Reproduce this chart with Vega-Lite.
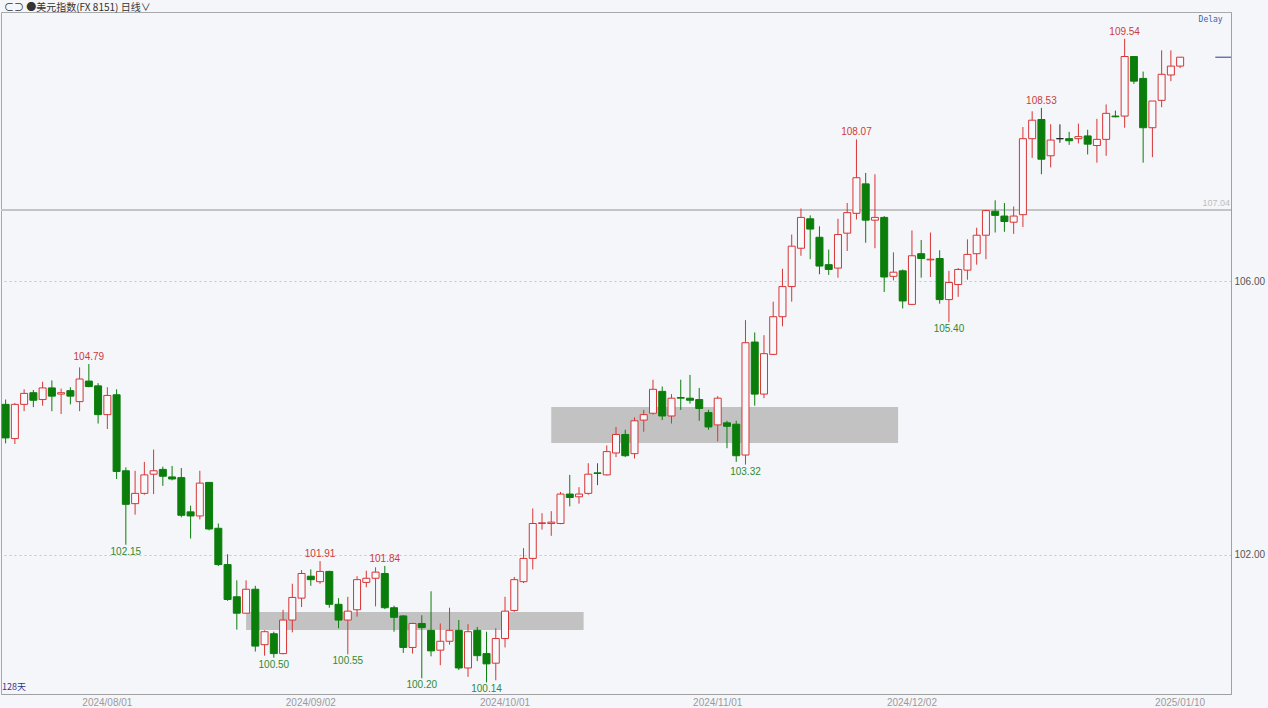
{
  "$schema": "https://vega.github.io/schema/vega-lite/v6.json",
  "width": 1230,
  "height": 682,
  "autosize": {"type": "none"},
  "padding": {"left": 1, "top": 12, "right": 37, "bottom": 14},
  "background": "#f5f6fa",
  "title": {"text": "⊂⊃ ●美元指数(FX 8151)   日线∨", "anchor": "start", "frame": "group", "offset": -1, "dx": 3, "fontSize": 10, "fontWeight": "normal", "color": "#333333", "font": "Noto Sans CJK SC"},
  "config": {"view": {"stroke": "#a8a8a8", "fill": "#f5f6fa"}},
  "datasets": {
    "candles": [
      {"date":"2024-07-17","open":104.20,"high":104.27,"low":103.63,"close":103.71},
      {"date":"2024-07-18","open":103.70,"high":104.22,"low":103.62,"close":104.20},
      {"date":"2024-07-19","open":104.20,"high":104.42,"low":104.10,"close":104.36},
      {"date":"2024-07-22","open":104.37,"high":104.41,"low":104.16,"close":104.26},
      {"date":"2024-07-23","open":104.27,"high":104.53,"low":104.18,"close":104.44},
      {"date":"2024-07-24","open":104.44,"high":104.55,"low":104.10,"close":104.32},
      {"date":"2024-07-25","open":104.35,"high":104.43,"low":104.06,"close":104.37},
      {"date":"2024-07-26","open":104.40,"high":104.45,"low":104.20,"close":104.32},
      {"date":"2024-07-29","open":104.24,"high":104.74,"low":104.10,"close":104.57},
      {"date":"2024-07-30","open":104.54,"high":104.79,"low":104.45,"close":104.46},
      {"date":"2024-07-31","open":104.47,"high":104.51,"low":103.92,"close":104.05},
      {"date":"2024-08-01","open":104.05,"high":104.45,"low":103.84,"close":104.33},
      {"date":"2024-08-02","open":104.34,"high":104.42,"low":103.11,"close":103.22},
      {"date":"2024-08-05","open":103.23,"high":103.28,"low":102.15,"close":102.74},
      {"date":"2024-08-06","open":102.75,"high":103.23,"low":102.59,"close":102.90},
      {"date":"2024-08-07","open":102.90,"high":103.36,"low":102.88,"close":103.17},
      {"date":"2024-08-08","open":103.18,"high":103.54,"low":102.89,"close":103.23},
      {"date":"2024-08-09","open":103.25,"high":103.29,"low":103.01,"close":103.15},
      {"date":"2024-08-12","open":103.14,"high":103.30,"low":103.09,"close":103.11},
      {"date":"2024-08-13","open":103.13,"high":103.27,"low":102.55,"close":102.58},
      {"date":"2024-08-14","open":102.63,"high":102.72,"low":102.24,"close":102.57},
      {"date":"2024-08-15","open":102.57,"high":103.23,"low":102.52,"close":103.05},
      {"date":"2024-08-16","open":103.06,"high":103.06,"low":102.36,"close":102.38},
      {"date":"2024-08-19","open":102.39,"high":102.46,"low":101.84,"close":101.86},
      {"date":"2024-08-20","open":101.86,"high":102.01,"low":101.33,"close":101.35},
      {"date":"2024-08-21","open":101.39,"high":101.63,"low":100.91,"close":101.15},
      {"date":"2024-08-22","open":101.15,"high":101.63,"low":101.15,"close":101.50},
      {"date":"2024-08-23","open":101.50,"high":101.55,"low":100.59,"close":100.67},
      {"date":"2024-08-26","open":100.69,"high":100.90,"low":100.53,"close":100.88},
      {"date":"2024-08-27","open":100.85,"high":100.88,"low":100.50,"close":100.56},
      {"date":"2024-08-28","open":100.56,"high":101.20,"low":100.55,"close":101.05},
      {"date":"2024-08-29","open":101.05,"high":101.58,"low":100.87,"close":101.38},
      {"date":"2024-08-30","open":101.37,"high":101.78,"low":101.24,"close":101.73},
      {"date":"2024-09-02","open":101.69,"high":101.79,"low":101.55,"close":101.64},
      {"date":"2024-09-03","open":101.61,"high":101.91,"low":101.58,"close":101.76},
      {"date":"2024-09-04","open":101.76,"high":101.77,"low":101.23,"close":101.28},
      {"date":"2024-09-05","open":101.28,"high":101.37,"low":100.93,"close":101.05},
      {"date":"2024-09-06","open":101.05,"high":101.39,"low":100.55,"close":101.18},
      {"date":"2024-09-09","open":101.20,"high":101.69,"low":101.10,"close":101.64},
      {"date":"2024-09-10","open":101.60,"high":101.77,"low":101.53,"close":101.66},
      {"date":"2024-09-11","open":101.66,"high":101.82,"low":101.25,"close":101.75},
      {"date":"2024-09-12","open":101.73,"high":101.84,"low":101.21,"close":101.23},
      {"date":"2024-09-13","open":101.23,"high":101.26,"low":100.88,"close":101.09},
      {"date":"2024-09-16","open":101.11,"high":101.12,"low":100.57,"close":100.65},
      {"date":"2024-09-17","open":100.65,"high":101.01,"low":100.56,"close":101.00},
      {"date":"2024-09-18","open":101.00,"high":101.12,"low":100.20,"close":100.94},
      {"date":"2024-09-19","open":100.90,"high":101.47,"low":100.52,"close":100.60},
      {"date":"2024-09-20","open":100.61,"high":101.00,"low":100.39,"close":100.74},
      {"date":"2024-09-23","open":100.74,"high":101.23,"low":100.69,"close":100.90},
      {"date":"2024-09-24","open":100.90,"high":101.05,"low":100.32,"close":100.35},
      {"date":"2024-09-25","open":100.35,"high":100.99,"low":100.22,"close":100.88},
      {"date":"2024-09-26","open":100.90,"high":100.95,"low":100.45,"close":100.53},
      {"date":"2024-09-27","open":100.56,"high":100.88,"low":100.14,"close":100.41},
      {"date":"2024-09-30","open":100.42,"high":100.93,"low":100.17,"close":100.78},
      {"date":"2024-10-01","open":100.78,"high":101.39,"low":100.65,"close":101.18},
      {"date":"2024-10-02","open":101.19,"high":101.68,"low":101.17,"close":101.64},
      {"date":"2024-10-03","open":101.61,"high":102.10,"low":101.59,"close":101.95},
      {"date":"2024-10-04","open":101.95,"high":102.68,"low":101.79,"close":102.46},
      {"date":"2024-10-07","open":102.46,"high":102.61,"low":102.37,"close":102.47},
      {"date":"2024-10-08","open":102.46,"high":102.64,"low":102.28,"close":102.48},
      {"date":"2024-10-09","open":102.46,"high":102.92,"low":102.45,"close":102.89},
      {"date":"2024-10-10","open":102.89,"high":103.17,"low":102.71,"close":102.84},
      {"date":"2024-10-11","open":102.85,"high":102.99,"low":102.75,"close":102.89},
      {"date":"2024-10-14","open":102.90,"high":103.34,"low":102.88,"close":103.18},
      {"date":"2024-10-15","open":103.20,"high":103.34,"low":103.02,"close":103.19},
      {"date":"2024-10-16","open":103.17,"high":103.60,"low":103.16,"close":103.51},
      {"date":"2024-10-17","open":103.49,"high":103.87,"low":103.43,"close":103.76},
      {"date":"2024-10-18","open":103.76,"high":103.83,"low":103.43,"close":103.45},
      {"date":"2024-10-21","open":103.48,"high":104.01,"low":103.41,"close":103.96},
      {"date":"2024-10-22","open":103.97,"high":104.12,"low":103.80,"close":104.05},
      {"date":"2024-10-23","open":104.07,"high":104.56,"low":104.05,"close":104.42},
      {"date":"2024-10-24","open":104.39,"high":104.46,"low":103.97,"close":104.03},
      {"date":"2024-10-25","open":104.03,"high":104.35,"low":103.92,"close":104.29},
      {"date":"2024-10-28","open":104.30,"high":104.56,"low":104.12,"close":104.29},
      {"date":"2024-10-29","open":104.29,"high":104.63,"low":104.21,"close":104.26},
      {"date":"2024-10-30","open":104.27,"high":104.44,"low":103.96,"close":104.14},
      {"date":"2024-10-31","open":104.08,"high":104.12,"low":103.83,"close":103.87},
      {"date":"2024-11-01","open":103.90,"high":104.32,"low":103.66,"close":104.29},
      {"date":"2024-11-04","open":103.93,"high":103.96,"low":103.56,"close":103.88},
      {"date":"2024-11-05","open":103.91,"high":103.96,"low":103.36,"close":103.45},
      {"date":"2024-11-06","open":103.46,"high":105.43,"low":103.32,"close":105.10},
      {"date":"2024-11-07","open":105.11,"high":105.25,"low":104.18,"close":104.35},
      {"date":"2024-11-08","open":104.35,"high":105.21,"low":104.29,"close":104.94},
      {"date":"2024-11-11","open":104.93,"high":105.70,"low":104.92,"close":105.48},
      {"date":"2024-11-12","open":105.48,"high":106.18,"low":105.34,"close":105.92},
      {"date":"2024-11-13","open":105.92,"high":106.68,"low":105.70,"close":106.51},
      {"date":"2024-11-14","open":106.48,"high":107.06,"low":106.37,"close":106.93},
      {"date":"2024-11-15","open":106.91,"high":106.96,"low":106.32,"close":106.76},
      {"date":"2024-11-18","open":106.64,"high":106.80,"low":106.10,"close":106.22},
      {"date":"2024-11-19","open":106.24,"high":106.46,"low":106.09,"close":106.17},
      {"date":"2024-11-20","open":106.19,"high":106.91,"low":106.05,"close":106.68},
      {"date":"2024-11-21","open":106.70,"high":107.14,"low":106.44,"close":107.00},
      {"date":"2024-11-22","open":106.99,"high":108.07,"low":106.90,"close":107.51},
      {"date":"2024-11-25","open":107.42,"high":107.58,"low":106.56,"close":106.89},
      {"date":"2024-11-26","open":106.89,"high":107.56,"low":106.48,"close":106.93},
      {"date":"2024-11-27","open":106.93,"high":106.95,"low":105.84,"close":106.06},
      {"date":"2024-11-28","open":106.07,"high":106.42,"low":106.01,"close":106.13},
      {"date":"2024-11-29","open":106.15,"high":106.17,"low":105.60,"close":105.71},
      {"date":"2024-12-02","open":105.66,"high":106.74,"low":105.65,"close":106.37},
      {"date":"2024-12-03","open":106.40,"high":106.60,"low":106.05,"close":106.33},
      {"date":"2024-12-04","open":106.31,"high":106.71,"low":106.06,"close":106.32},
      {"date":"2024-12-05","open":106.33,"high":106.45,"low":105.67,"close":105.73},
      {"date":"2024-12-06","open":105.73,"high":106.15,"low":105.40,"close":105.98},
      {"date":"2024-12-09","open":105.95,"high":106.19,"low":105.77,"close":106.17},
      {"date":"2024-12-10","open":106.16,"high":106.61,"low":106.02,"close":106.39},
      {"date":"2024-12-11","open":106.40,"high":106.78,"low":106.24,"close":106.67},
      {"date":"2024-12-12","open":106.67,"high":107.04,"low":106.32,"close":107.03},
      {"date":"2024-12-13","open":107.02,"high":107.18,"low":106.71,"close":106.96},
      {"date":"2024-12-16","open":106.95,"high":107.14,"low":106.72,"close":106.87},
      {"date":"2024-12-17","open":106.86,"high":107.09,"low":106.69,"close":106.95},
      {"date":"2024-12-18","open":106.97,"high":108.25,"low":106.79,"close":108.08},
      {"date":"2024-12-19","open":108.08,"high":108.48,"low":107.80,"close":108.35},
      {"date":"2024-12-20","open":108.36,"high":108.53,"low":107.56,"close":107.78},
      {"date":"2024-12-23","open":107.83,"high":108.29,"low":107.66,"close":108.06},
      {"date":"2024-12-24","open":108.08,"high":108.29,"low":108.02,"close":108.08},
      {"date":"2024-12-25","open":108.08,"high":108.18,"low":107.99,"close":108.05},
      {"date":"2024-12-26","open":108.08,"high":108.30,"low":108.01,"close":108.11},
      {"date":"2024-12-27","open":108.12,"high":108.21,"low":107.85,"close":108.00},
      {"date":"2024-12-30","open":107.98,"high":108.37,"low":107.73,"close":108.07},
      {"date":"2024-12-31","open":108.07,"high":108.58,"low":107.83,"close":108.45},
      {"date":"2025-01-01","open":108.41,"high":108.49,"low":108.39,"close":108.40},
      {"date":"2025-01-02","open":108.41,"high":109.54,"low":108.24,"close":109.28},
      {"date":"2025-01-03","open":109.28,"high":109.28,"low":108.88,"close":108.92},
      {"date":"2025-01-06","open":108.96,"high":109.06,"low":107.73,"close":108.24},
      {"date":"2025-01-07","open":108.24,"high":108.63,"low":107.81,"close":108.63},
      {"date":"2025-01-08","open":108.64,"high":109.37,"low":108.54,"close":109.02},
      {"date":"2025-01-09","open":109.01,"high":109.37,"low":108.92,"close":109.14},
      {"date":"2025-01-10","open":109.14,"high":109.27,"low":109.11,"close":109.27}
    ],
    "labels": [
      {"date":"2024-07-30","price":104.79,"kind":"high"},
      {"date":"2024-08-05","price":102.15,"kind":"low"},
      {"date":"2024-08-27","price":100.50,"kind":"low"},
      {"date":"2024-09-03","price":101.91,"kind":"high"},
      {"date":"2024-09-06","price":100.55,"kind":"low"},
      {"date":"2024-09-12","price":101.84,"kind":"high"},
      {"date":"2024-09-18","price":100.20,"kind":"low"},
      {"date":"2024-09-27","price":100.14,"kind":"low"},
      {"date":"2024-11-06","price":103.32,"kind":"low"},
      {"date":"2024-11-22","price":108.07,"kind":"high"},
      {"date":"2024-12-06","price":105.40,"kind":"low"},
      {"date":"2024-12-20","price":108.53,"kind":"high"},
      {"date":"2025-01-02","price":109.54,"kind":"high"}
    ],
    "zones": [
      {"start":"2024-10-08","end":"2024-11-29","top":104.16,"bottom":103.635},
      {"start":"2024-08-22","end":"2024-10-14","top":101.168,"bottom":100.905}
    ]
  },
  "data": {"name": "candles"},
  "encoding": {
    "x": {
      "field": "date", "type": "ordinal",
      "scale": {"type": "band", "paddingInner": 0, "paddingOuter": 0,
        "domain": ["2024-07-17","2024-07-18","2024-07-19","2024-07-22","2024-07-23","2024-07-24","2024-07-25","2024-07-26","2024-07-29","2024-07-30","2024-07-31","2024-08-01","2024-08-02","2024-08-05","2024-08-06","2024-08-07","2024-08-08","2024-08-09","2024-08-12","2024-08-13","2024-08-14","2024-08-15","2024-08-16","2024-08-19","2024-08-20","2024-08-21","2024-08-22","2024-08-23","2024-08-26","2024-08-27","2024-08-28","2024-08-29","2024-08-30","2024-09-02","2024-09-03","2024-09-04","2024-09-05","2024-09-06","2024-09-09","2024-09-10","2024-09-11","2024-09-12","2024-09-13","2024-09-16","2024-09-17","2024-09-18","2024-09-19","2024-09-20","2024-09-23","2024-09-24","2024-09-25","2024-09-26","2024-09-27","2024-09-30","2024-10-01","2024-10-02","2024-10-03","2024-10-04","2024-10-07","2024-10-08","2024-10-09","2024-10-10","2024-10-11","2024-10-14","2024-10-15","2024-10-16","2024-10-17","2024-10-18","2024-10-21","2024-10-22","2024-10-23","2024-10-24","2024-10-25","2024-10-28","2024-10-29","2024-10-30","2024-10-31","2024-11-01","2024-11-04","2024-11-05","2024-11-06","2024-11-07","2024-11-08","2024-11-11","2024-11-12","2024-11-13","2024-11-14","2024-11-15","2024-11-18","2024-11-19","2024-11-20","2024-11-21","2024-11-22","2024-11-25","2024-11-26","2024-11-27","2024-11-28","2024-11-29","2024-12-02","2024-12-03","2024-12-04","2024-12-05","2024-12-06","2024-12-09","2024-12-10","2024-12-11","2024-12-12","2024-12-13","2024-12-16","2024-12-17","2024-12-18","2024-12-19","2024-12-20","2024-12-23","2024-12-24","2024-12-25","2024-12-26","2024-12-27","2024-12-30","2024-12-31","2025-01-01","2025-01-02","2025-01-03","2025-01-06","2025-01-07","2025-01-08","2025-01-09","2025-01-10","2025-01-13","2025-01-14","2025-01-15","2025-01-16","2025-01-17"]},
      "axis": {
        "title": null,
        "values": ["2024-08-01","2024-09-02","2024-10-01","2024-11-01","2024-12-02","2025-01-10"],
        "labelExpr": "replace(replace(datum.value, '-', '/'), '-', '/')",
        "labelAngle": 0, "ticks": false, "domainColor": "#a0a0a0", "labelColor": "#9a9a9a",
        "labelFontSize": 10, "labelFont": "Liberation Sans", "labelPadding": 3, "grid": false
      }
    }
  },
  "layer": [
    {
      "data": {"name": "zones"},
      "mark": {"type": "rect", "color": "#c2c2c2"},
      "encoding": {
        "x": {"field": "start", "type": "ordinal", "bandPosition": 0.5},
        "x2": {"field": "end", "bandPosition": 0},
        "y": {"field": "top", "type": "quantitative"},
        "y2": {"field": "bottom"}
      }
    },
    {
      "data": {"values": [{}]},
      "mark": {"type": "rule", "color": "#c4c4c4", "strokeWidth": 2},
      "encoding": {
        "x": {"datum": "2024-07-17", "bandPosition": 0},
        "x2": {"datum": "2025-01-17", "bandPosition": 1},
        "y": {"datum": 107.04}
      }
    },
    {
      "mark": {"type": "rule", "strokeWidth": 1},
      "encoding": {
        "y": {
          "field": "low", "type": "quantitative",
          "scale": {"domain": [99.97, 109.93], "nice": false, "zero": false},
          "axis": {
            "orient": "right", "title": null, "values": [102, 106], "format": ".2f",
            "grid": true, "gridDash": [2, 3], "gridColor": "#c4c4c4",
            "domainColor": "#a0a0a0", "ticks": false, "labelPadding": 3,
            "labelColor": "#555555", "labelFontSize": 10, "labelFont": "Liberation Sans"
          }
        },
        "y2": {"field": "high"},
        "color": {
          "condition": [
            {"test": "datum.close > datum.open", "value": "#d83434"},
            {"test": "datum.close < datum.open", "value": "#0b7d0b"}
          ],
          "value": "#222222"
        }
      }
    },
    {
      "mark": {"type": "bar", "width": 7, "strokeWidth": 1},
      "encoding": {
        "y": {"field": "open", "type": "quantitative"},
        "y2": {"field": "close"},
        "fill": {
          "condition": [{"test": "datum.close > datum.open", "value": "#f8f9fc"}],
          "value": "#0b7d0b"
        },
        "stroke": {
          "condition": [
            {"test": "datum.close > datum.open", "value": "#d83434"},
            {"test": "datum.close < datum.open", "value": "#0b7d0b"}
          ],
          "value": "#222222"
        }
      }
    },
    {
      "data": {"name": "labels"},
      "transform": [{"filter": "datum.kind == 'high'"}],
      "mark": {"type": "text", "baseline": "bottom", "dy": -2, "fontSize": 10, "font": "Liberation Sans", "color": "#cc3b3b"},
      "encoding": {
        "x": {"field": "date", "type": "ordinal"},
        "y": {"field": "price", "type": "quantitative"},
        "text": {"field": "price", "type": "quantitative", "format": ".2f"}
      }
    },
    {
      "data": {"name": "labels"},
      "transform": [{"filter": "datum.kind == 'low'"}],
      "mark": {"type": "text", "baseline": "top", "dy": 2, "fontSize": 10, "font": "Liberation Sans", "color": "#2f8a2f"},
      "encoding": {
        "x": {"field": "date", "type": "ordinal"},
        "y": {"field": "price", "type": "quantitative"},
        "text": {"field": "price", "type": "quantitative", "format": ".2f"}
      }
    },
    {
      "data": {"values": [{}]},
      "mark": {"type": "text", "text": "107.04", "align": "right", "baseline": "bottom", "dx": -1, "dy": -2, "fontSize": 9, "font": "Liberation Sans", "color": "#bdbdbd"},
      "encoding": {"x": {"datum": "2025-01-17", "bandPosition": 1}, "y": {"datum": 107.04}}
    },
    {
      "data": {"values": [{}]},
      "mark": {"type": "text", "text": "Delay", "align": "center", "baseline": "middle", "fontSize": 8, "font": "DejaVu Sans Mono", "color": "#3a60b0"},
      "encoding": {"x": {"datum": "2025-01-15", "bandPosition": 0.8}, "y": {"datum": 109.82}}
    },
    {
      "data": {"values": [{}]},
      "mark": {"type": "rule", "color": "#2a3c8c", "strokeWidth": 1},
      "encoding": {"x": {"datum": "2025-01-16", "bandPosition": 0.3}, "x2": {"datum": "2025-01-17", "bandPosition": 1}, "y": {"datum": 109.27}}
    },
    {
      "data": {"values": [{}]},
      "mark": {"type": "text", "text": "128天", "align": "left", "baseline": "middle", "dx": 1, "fontSize": 9, "font": "Noto Sans CJK SC", "color": "#2b3a8a"},
      "encoding": {"x": {"datum": "2024-07-17", "bandPosition": 0}, "y": {"datum": 100.066}}
    }
  ]
}
